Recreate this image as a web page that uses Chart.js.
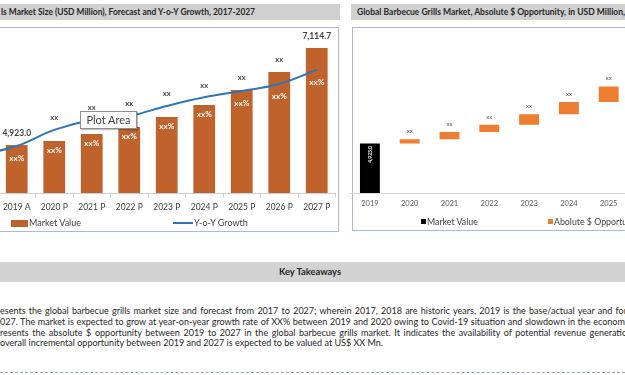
<!DOCTYPE html>
<html>
<head>
<meta charset="utf-8">
<script src="https://cdn.jsdelivr.net/npm/chart.js@4.4.1/dist/chart.umd.min.js"></script>
<style>
  html, body { margin: 0; padding: 0; }
  body { width: 625px; height: 375px; overflow: hidden; position: relative; background: #fff; font-family: Lato, "Liberation Sans", sans-serif; color: #404040; }
  .abs { position: absolute; }
  .bar { background: #d0d0d0; }
  .ttl { position: absolute; white-space: nowrap; font-weight: bold; color: #262626; font-size: 9.5px; line-height: 12px; display: inline-block; transform-origin: 0 50%; }
  .frame { position: absolute; border: 1px solid #a8b9da; box-sizing: border-box; }
  .lg { position: absolute; white-space: nowrap; font-size: 9px; line-height: 12px; color: #404040; display: inline-block; }
  .sw { position: absolute; }
  .tk { position: absolute; left: 0; white-space: nowrap; font-size: 8.6px; line-height: 12px; color: #262626; display: inline-block; transform-origin: 0 50%; }
  #plotarea { left: 80px; top: 111px; width: 57px; height: 18px; background: #fff; border: 1px solid #8f8f8f; box-sizing: border-box; box-shadow: 1px 1px 1px rgba(0,0,0,0.25); font-size: 11px; line-height: 16px; text-align: center; color: #404040; }
</style>
</head>
<body>
  <!-- left panel -->
  <div class="abs bar" style="left:-10px; top:4px; width:350px; height:16px;"></div>
  <span class="ttl" id="ttlL" style="left:1px; top:6px;">ls Market Size (USD Million), Forecast and Y-o-Y Growth, 2017-2027</span>
  <div class="frame" style="left:-20px; top:27px; width:359px; height:205px;"></div>
  <div class="abs" id="leftBox" style="left:-80px; top:27px; width:418px; height:185px;"><canvas id="left"></canvas></div>
  <div class="abs" id="plotarea">Plot Area</div>

  <!-- right panel -->
  <div class="abs bar" style="left:351px; top:4px; width:290px; height:16px;"></div>
  <span class="ttl" id="ttlR" style="left:357px; top:6px;">Global Barbecue Grills Market, Absolute $ Opportunity, in USD Million, 2019-2027</span>
  <div class="frame" style="left:352px; top:27px; width:300px; height:204px;"></div>
  <div class="abs" id="rightBox" style="left:350px; top:27px; width:360px; height:181px;"><canvas id="right"></canvas></div>

  <div id="legends"></div>

  <!-- key takeaways -->
  <div class="abs bar" style="left:0; top:262px; width:625px; height:20px; background:#d3d3d3;"></div>
  <span class="ttl" id="ktk" style="top:266px; left:279px;">Key Takeaways</span>
  <span class="tk" id="t1" style="top:305px;">esents the global barbecue grills market size and forecast from 2017 to 2027; wherein 2017, 2018 are historic years, 2019 is the base/actual year and for</span>
  <span class="tk" id="t2" style="top:316px;">027. The market is expected to grow at year-on-year growth rate of XX% between 2019 and 2020 owing to Covid-19 situation and slowdown in the economi</span>
  <span class="tk" id="t3" style="top:327px;">resents the absolute $ opportunity between 2019 to 2027 in the global barbecue grills market. It indicates the availability of potential revenue generatio</span>
  <span class="tk" id="t4" style="top:337px;">overall incremental opportunity between 2019 and 2027 is expected to be valued at US$ XX Mn.</span>
  <div class="abs" style="left:0; top:372px; width:625px; height:0; border-top:1px dashed #8ea3cf;"></div>

<script>
// ---------------- data ----------------
const leftCategories = ['2017 A', '2018 A', '2019 A', '2020 P', '2021 P', '2022 P', '2023 P', '2024 P', '2025 P', '2026 P', '2027 P'];
const marketValue = [4590, 4760, 4923.0, 5015, 5173, 5332, 5559, 5829, 6168, 6575, 7114.7];
const yoyGrowth = [18, 23.3, 28.8, 38.7, 44.8, 47.2, 53.4, 58.7, 62.6, 66.9, 75.5];
const valueLabels = ['', '', '4,923.0', 'xx', 'xx', 'xx', 'xx', 'xx', 'xx', 'xx', '7,114.7'];
const growthLabels = ['xx%', 'xx%', 'xx%', 'xx%', 'xx%', 'xx%', 'xx%', 'xx%', 'xx%', 'xx%', 'xx%'];

const rightCategories = ['2019', '2020', '2021', '2022', '2023', '2024', '2025', '2026', '2027'];
const baseYearValue = 4923.0;
const baseYearLabel = '4,923.0';
const opportunityLabels = ['', 'xx', 'xx', 'xx', 'xx', 'xx', 'xx', 'xx', 'xx'];

// ---------------- text fitting (horizontal condensing, like the original narrow font) ----------------
function widthOf(text, cls, extraStyle) {
  const s = document.createElement('span');
  s.className = cls;
  s.style.left = '0'; s.style.top = '-100px';
  if (extraStyle) Object.assign(s.style, extraStyle);
  s.textContent = text;
  document.body.appendChild(s);
  const w = s.getBoundingClientRect().width;
  s.remove();
  return w;
}
function squeeze(id, target) {
  const el = document.getElementById(id);
  const w = el.getBoundingClientRect().width;
  const s = target / w;
  el.style.transform = 'scaleX(' + s + ')';
  return s;
}
squeeze('ttlL', 254);
const rPart = widthOf('Global Barbecue Grills Market, Absolute $ Opportunity, in USD Million,', 'ttl');
document.getElementById('ttlR').style.transform = 'scaleX(' + (268 / rPart) + ')';
squeeze('ktk', 62);
const bs = squeeze('t4', 383);
['t1', 't2', 't3'].forEach(id => {
  const el = document.getElementById(id);
  const w = el.getBoundingClientRect().width;
  const n = (el.textContent.match(/ /g) || []).length;
  el.style.wordSpacing = Math.max(0, (627 / bs - w) / n) + 'px';
  el.style.transform = 'scaleX(' + bs + ')';
});

// ---------------- charts ----------------
Chart.defaults.font.family = 'Lato, "Liberation Sans", sans-serif';
Chart.defaults.animation = false;

const BAR_COLOR = '#c0622b';
const LINE_COLOR = '#2e75b6';

const leftLabels = {
  id: 'leftLabels',
  afterDatasetsDraw(chart) {
    const ctx = chart.ctx;
    const bars = chart.getDatasetMeta(0).data;
    const pts = chart.getDatasetMeta(1).data;
    ctx.save();
    ctx.textAlign = 'center';
    ctx.textBaseline = 'middle';
    bars.forEach((bar, i) => {
      const lineY = pts[i].y;
      if (valueLabels[i]) {
        ctx.fillStyle = '#404040';
        ctx.font = (valueLabels[i] === 'xx' ? 'bold 7.5px ' : 'bold 8.5px ') + Chart.defaults.font.family;
        ctx.fillText(valueLabels[i], bar.x, Math.min(bar.y, lineY) - 12);
      }
      ctx.fillStyle = '#ffffff';
      ctx.font = 'bold 8px ' + Chart.defaults.font.family;
      ctx.fillText(growthLabels[i], bar.x, Math.max(lineY + 12, bar.y + 9));
    });
    ctx.restore();
  }
};

const leftChart = new Chart(document.getElementById('left'), {
  type: 'bar',
  data: {
    labels: leftCategories,
    datasets: [
      { type: 'bar', label: 'Market Value', data: marketValue, backgroundColor: BAR_COLOR, yAxisID: 'y', order: 2,
        barPercentage: 0.58, categoryPercentage: 1 },
      { type: 'line', label: 'Y-o-Y Growth', data: yoyGrowth, borderColor: LINE_COLOR, backgroundColor: LINE_COLOR, borderWidth: 2,
        pointRadius: 0, tension: 0.4, yAxisID: 'y2', order: 1 }
    ]
  },
  options: {
    responsive: true, maintainAspectRatio: false,
    layout: { padding: { left: 0, right: 0, top: 3, bottom: 0 } },
    plugins: { legend: { display: false }, tooltip: { enabled: false } },
    scales: {
      x: {
        grid: { drawOnChartArea: false, drawTicks: true, tickLength: 4, color: '#d0d0d0', offset: true },
        border: { display: true, color: '#d0d0d0' },
        ticks: { color: '#404040', font: { size: 8.5 }, padding: 5, autoSkip: false, maxRotation: 0 }
      },
      y: { display: false, min: 3840, max: 7524 },
      y2: { display: false, min: 0, max: 100 }
    }
  },
  plugins: [leftLabels]
});

const rightLabels = {
  id: 'rightLabels',
  afterDatasetsDraw(chart) {
    const ctx = chart.ctx;
    const base = chart.getDatasetMeta(0).data[0];
    const opp = chart.getDatasetMeta(1).data;
    ctx.save();
    ctx.textAlign = 'center';
    ctx.textBaseline = 'middle';
    ctx.fillStyle = '#ffffff';
    ctx.font = 'bold 5px ' + Chart.defaults.font.family;
    ctx.translate(base.x, base.y + 11);
    ctx.rotate(-Math.PI / 2);
    ctx.fillText(baseYearLabel, 0, 0);
    ctx.restore();
    ctx.save();
    ctx.textAlign = 'center';
    ctx.textBaseline = 'middle';
    ctx.fillStyle = '#595959';
    ctx.font = '6px ' + Chart.defaults.font.family;
    opp.forEach((bar, i) => {
      if (!opportunityLabels[i] || bar.skip) return;
      const top = Math.min(bar.y, bar.base);
      ctx.fillText(opportunityLabels[i], bar.x, top - 8);
    });
    ctx.restore();
  }
};

const rightMarket = rightCategories.map((c, i) => i === 0 ? baseYearValue : null);
const rightOpportunity = rightCategories.map((c, i) => {
  if (i === 0) return null;
  const idx = leftCategories.findIndex(l => l.startsWith(c));
  const prev = leftCategories.findIndex(l => l.startsWith(rightCategories[i - 1]));
  return [marketValue[prev], marketValue[idx]];
});

const rightChart = new Chart(document.getElementById('right'), {
  type: 'bar',
  data: {
    labels: rightCategories,
    datasets: [
      { label: 'Market Value', data: rightMarket, backgroundColor: '#000000', barPercentage: 0.5, categoryPercentage: 1 },
      { label: 'Abolute $ Opportunity', data: rightOpportunity, backgroundColor: '#ed7d31', barPercentage: 0.5, categoryPercentage: 1 }
    ]
  },
  options: {
    responsive: true, maintainAspectRatio: false,
    layout: { padding: { left: 0, right: 0, top: 3, bottom: 0 } },
    plugins: { legend: { display: false }, tooltip: { enabled: false } },
    scales: {
      x: {
        stacked: true,
        grid: { drawOnChartArea: false, drawTicks: false },
        border: { display: true, color: '#d9d9d9' },
        ticks: { color: '#595959', font: { size: 7.5 }, padding: 6, autoSkip: false, maxRotation: 0 }
      },
      y: { display: false, min: 3840, max: 7400 }
    }
  },
  plugins: [rightLabels]
});

// ---------------- place each chart's plot area where the reference has it ----------------
function alignArea(chart, box, want) {
  for (let k = 0; k < 2; k++) {
    const a = chart.chartArea;
    const r = box.getBoundingClientRect();
    const dTop = want.top - (r.top + a.top);
    const dLeft = want.left - (r.left + a.left);
    const dH = (want.bottom - want.top) - (a.bottom - a.top);
    const dW = (want.right - want.left) - (a.right - a.left);
    box.style.top = (parseFloat(box.style.top) + dTop) + 'px';
    box.style.left = (parseFloat(box.style.left) + dLeft) + 'px';
    box.style.height = (parseFloat(box.style.height) + dH) + 'px';
    box.style.width = (parseFloat(box.style.width) + dW) + 'px';
    chart.resize();
  }
}
alignArea(leftChart, document.getElementById('leftBox'), { left: -77.5, right: 335, top: 30, bottom: 193 });
alignArea(rightChart, document.getElementById('rightBox'), { left: 350.2, right: 708.4, top: 30, bottom: 193 });

// ---------------- HTML legends from chart datasets ----------------
const legendHost = document.getElementById('legends');
function addLegend(ds, swatch, textLeft, textTop, size) {
  const sw = document.createElement('div');
  sw.className = 'sw';
  Object.assign(sw.style, swatch, { background: ds.type === 'line' ? ds.borderColor : ds.backgroundColor });
  legendHost.appendChild(sw);
  const t = document.createElement('span');
  t.className = 'lg';
  t.textContent = ds.label;
  t.style.left = textLeft + 'px';
  t.style.top = textTop + 'px';
  if (size) t.style.fontSize = size + 'px';
  legendHost.appendChild(t);
}
const L = leftChart.data.datasets;
addLegend(L[0], { left: '11px', top: '220px', width: '17px', height: '7px' }, 29, 217);
addLegend(L[1], { left: '173px', top: '222px', width: '20px', height: '2px' }, 194, 217);
const R = rightChart.data.datasets;
addLegend(R[0], { left: '421px', top: '219px', width: '5px', height: '5px' }, 427, 215.5, 8.8);
addLegend(R[1], { left: '548px', top: '219px', width: '5px', height: '5px' }, 554, 215.5, 8.8);
</script>
</body>
</html>
